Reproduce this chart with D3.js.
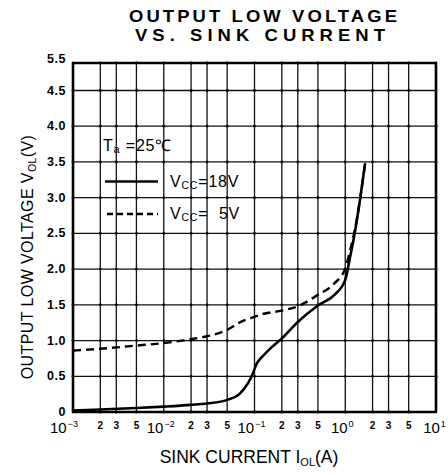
<!DOCTYPE html>
<html><head><meta charset="utf-8">
<script src="https://cdn.jsdelivr.net/npm/d3@7"></script>
<style>body{margin:0;background:#fff} svg{display:block}</style>
</head><body><svg id="c" width="448" height="475"></svg>
<script>
// ---- data ----
const xDecades = [1e-3, 1e-2, 1e-1, 1, 10];
const xDecadeExps = ["-3", "-2", "-1", "0", "1"];
const xMinorMult = [2, 3, 5];
const yTicks = [0, 0.5, 1.0, 1.5, 2.0, 2.5, 3.0, 3.5, 4.0, 4.5, 5.5];
const yTickLabels = ["0", "0.5", "1.0", "1.5", "2.0", "2.5", "3.0", "3.5", "4.0", "4.5", "5.5"];

// Vcc = 18V (solid)
const vcc18I = [0.001, 0.002, 0.005, 0.01, 0.02, 0.03, 0.05, 0.068, 0.0855, 0.093, 0.1, 0.106, 0.114, 0.125, 0.15, 0.2, 0.3, 0.5, 0.76, 1.0, 1.13, 1.23, 1.45, 1.65];
const vcc18V = [0.02, 0.035, 0.055, 0.075, 0.10, 0.12, 0.17, 0.25, 0.41, 0.50, 0.60, 0.68, 0.735, 0.79, 0.89, 1.03, 1.26, 1.49, 1.64, 1.85, 2.17, 2.40, 2.96, 3.47];
// Vcc = 5V (dashed)
const vcc5I = [0.001, 0.002, 0.005, 0.01, 0.02, 0.03, 0.05, 0.068, 0.08, 0.1, 0.115, 0.2, 0.3, 0.5, 0.76, 1.0, 1.13, 1.27, 1.45, 1.65];
const vcc5V = [0.86, 0.885, 0.93, 0.965, 1.02, 1.06, 1.15, 1.25, 1.29, 1.33, 1.36, 1.42, 1.48, 1.64, 1.80, 2.01, 2.26, 2.54, 2.96, 3.47];

const titleLines = ["OUTPUT LOW VOLTAGE", "VS. SINK CURRENT"];

// ---- drawing ----
const svg = d3.select("#c");
const FONT = "'Liberation Sans', Arial, Helvetica, sans-serif";
const L = 73, R = 436, T = 63, B = 412;
const x = d3.scaleLog().domain([1e-3, 10]).range([L, R]);
const y = d3.scaleLinear().domain([0, 4.5, 5.5]).range([B, 90.5, T]);

// grid values
const xGrid = [];
xDecades.forEach((d, i) => {
  xGrid.push(d);
  if (i < xDecades.length - 1) xMinorMult.forEach(m => xGrid.push(d * m));
});
const yGrid = yTicks.filter(v => v > 0 && v < 5.5);

const g = svg.append("g");
g.selectAll("line.vg").data(xGrid.filter(v => v > 1e-3 && v < 10)).join("line")
  .attr("x1", d => x(d)).attr("x2", d => x(d)).attr("y1", T).attr("y2", B)
  .attr("stroke", "#111").attr("stroke-width", 1.3);
g.selectAll("line.hg").data(yGrid).join("line")
  .attr("x1", L).attr("x2", R).attr("y1", d => y(d)).attr("y2", d => y(d))
  .attr("stroke", "#111").attr("stroke-width", 1.3);
// intersection dots
const pts = [];
xGrid.forEach(xv => yTicks.forEach(yv => pts.push([xv, yv])));
g.selectAll("circle.dot").data(pts).join("circle")
  .attr("cx", d => x(d[0])).attr("cy", d => y(d[1])).attr("r", 1.4).attr("fill", "#000");

// border
svg.append("rect").attr("x", L).attr("y", T).attr("width", R - L).attr("height", B - T)
  .attr("rx", 2).attr("fill", "none").attr("stroke", "#000").attr("stroke-width", 2.6);

// curves
const line = d3.line().x(d => x(d[0])).y(d => y(d[1])).curve(d3.curveMonotoneX);
svg.append("path").datum(vcc18I.map((v, i) => [v, vcc18V[i]]))
  .attr("d", line).attr("fill", "none").attr("stroke", "#000").attr("stroke-width", 2.6)
  .attr("stroke-linecap", "round");
svg.append("path").datum(vcc5I.map((v, i) => [v, vcc5V[i]]))
  .attr("d", line).attr("fill", "none").attr("stroke", "#000").attr("stroke-width", 2.4)
  .attr("stroke-dasharray", "8,5");

// y tick labels
svg.append("g").selectAll("text").data(yTicks).join("text")
  .attr("x", 66).attr("y", d => y(d) + (d === 5.5 ? 0 : 4))
  .attr("text-anchor", "end").attr("font-family", FONT).attr("font-size", 12.5)
  .attr("font-weight", "bold").attr("letter-spacing", 0.5)
  .text((d, i) => yTickLabels[i]);

// x tick labels: decades
const xl = svg.append("g").attr("font-family", FONT);
const decOffset = [-9, -3, -3, -3, -1.5];
xDecades.forEach((d, i) => {
  const t = xl.append("text").attr("x", x(d) + decOffset[i]).attr("y", 433)
    .attr("text-anchor", "middle").attr("font-size", 15);
  t.append("tspan").text("10");
  t.append("tspan").attr("font-size", 9).attr("dy", -6).attr("dx", 1)
    .text(xDecadeExps[i].replace("-", "\u2212"));
});
// minor labels
const minors = [];
xDecades.slice(0, -1).forEach(d => xMinorMult.forEach(m => minors.push([d * m, m])));
xl.selectAll("text.mn").data(minors).join("text")
  .attr("x", d => x(d[0])).attr("y", 429).attr("text-anchor", "middle")
  .attr("font-size", 10).attr("font-weight", "bold").text(d => d[1]);

// titles (slightly extended lettering)
const SX = 1.12;
[[titleLines[0], 263, 21.5, 268], [titleLines[1], 260, 41, 250]].forEach(([s, cx, by, w]) => {
  svg.append("g").attr("transform", `translate(${cx},${by}) scale(${SX},1)`)
    .append("text").attr("x", 0).attr("y", 0).attr("text-anchor", "middle")
    .attr("font-family", FONT).attr("font-size", 16.5).attr("font-weight", "bold")
    .attr("textLength", w / SX).attr("lengthAdjust", "spacing").text(s);
});

// x axis title
const xt = svg.append("text").attr("x", 249).attr("y", 463).attr("text-anchor", "middle")
  .attr("font-family", FONT).attr("font-size", 17.5);
xt.append("tspan").text("SINK CURRENT I");
xt.append("tspan").attr("font-size", 11).attr("dy", 3).text("OL");
xt.append("tspan").attr("dy", -3).text("(A)");

// y axis title
const yt = svg.append("text").attr("transform", "translate(33,257) rotate(-90)")
  .attr("text-anchor", "middle").attr("font-family", FONT).attr("font-size", 16)
  .attr("letter-spacing", 0.4);
yt.append("tspan").text("OUTPUT LOW VOLTAGE V");
yt.append("tspan").attr("font-size", 10.5).attr("dy", 3).text("OL");
yt.append("tspan").attr("dy", -3).text("(V)");

// legend
const lg = svg.append("g").attr("font-family", FONT).attr("font-size", 16).attr("letter-spacing", 0.8);
const ta = lg.append("text").attr("x", 103).attr("y", 151);
ta.append("tspan").text("T");
ta.append("tspan").attr("font-size", 11).attr("dy", 2).text("a");
ta.append("tspan").attr("dy", -2).text(" =25\u2103");
lg.append("line").attr("x1", 105).attr("x2", 158).attr("y1", 181.5).attr("y2", 181.5)
  .attr("stroke", "#000").attr("stroke-width", 2.6);
lg.append("line").attr("x1", 107).attr("x2", 158).attr("y1", 214).attr("y2", 214)
  .attr("stroke", "#000").attr("stroke-width", 2.4).attr("stroke-dasharray", "6,4");
[["=18V", 187], ["=  5V", 219]].forEach(([s, yy]) => {
  const t = lg.append("text").attr("x", 170).attr("y", yy);
  t.append("tspan").text("V");
  t.append("tspan").attr("font-size", 10.5).attr("dy", 2).text("CC");
  t.append("tspan").attr("dy", -2).style("white-space", "pre").text(s);
});
</script></body></html>
